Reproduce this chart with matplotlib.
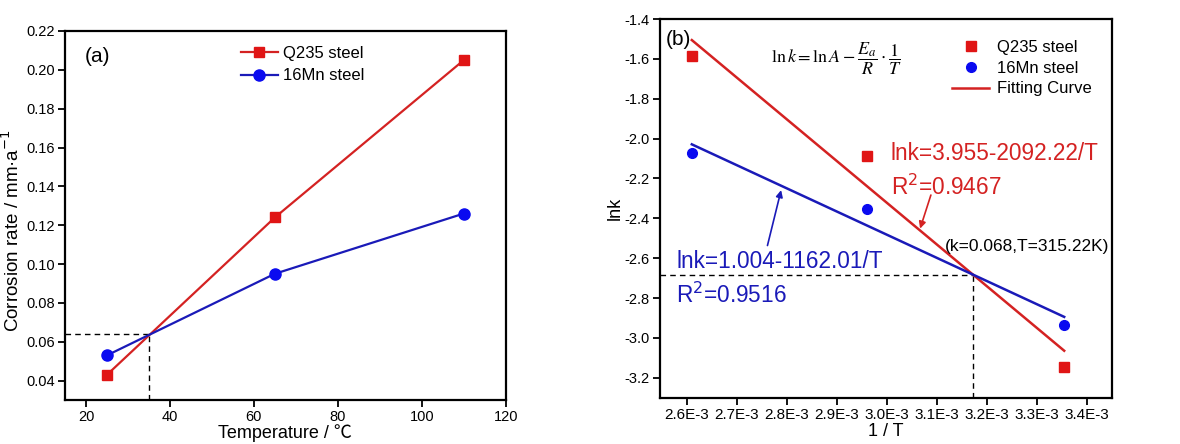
import matplotlib
matplotlib.use("Agg")
import matplotlib.pyplot as plt
import numpy as np

plt.rcParams['font.family'] = ['Liberation Sans', 'DejaVu Sans']

# ---- data panel (a)
temps = [25, 65, 110]
q235_rate = [0.043, 0.124, 0.205]
mn16_rate = [0.053, 0.095, 0.126]
cross_T = 35
cross_rate = 0.064

# ---- data panel (b)
inv_T = [2.61e-3, 2.96e-3, 3.355e-3]
q235_lnk = [-1.585, -2.088, -3.145]
mn16_lnk = [-2.071, -2.355, -2.937]
q235_fit = (3.955, -2092.22)   # intercept, slope
mn16_fit = (1.004, -1162.01)
cross_invT = 3.1724e-3
cross_lnk = -2.686
xticks_b = [2.6e-3, 2.7e-3, 2.8e-3, 2.9e-3, 3.0e-3, 3.1e-3, 3.2e-3, 3.3e-3, 3.4e-3]
xticklabels_b = ['2.6E-3', '2.7E-3', '2.8E-3', '2.9E-3', '3.0E-3', '3.1E-3', '3.2E-3', '3.3E-3', '3.4E-3']

RED = '#E01515'
REDL = '#D42222'
BLUE = '#0A0AF0'
BLUEL = '#1A1AB8'

fig = plt.figure(figsize=(11.8, 4.44), dpi=100)
ax1 = fig.add_axes([0.0551, 0.0991, 0.3735, 0.8311])
ax2 = fig.add_axes([0.5596, 0.1043, 0.3825, 0.8529])

for ax in (ax1, ax2):
    for s in ax.spines.values():
        s.set_linewidth(1.6)
    ax.tick_params(direction='out', length=5, width=1.3, labelsize=10.5, pad=2.5, top=False, right=False)

# ---- panel (a)
ax1.plot([15, cross_T], [cross_rate, cross_rate], ls='--', color='black', lw=1, dashes=(4, 3))
ax1.plot([cross_T, cross_T], [0.03, cross_rate], ls='--', color='black', lw=1, dashes=(4, 3))
ax1.plot(temps, q235_rate, color=REDL, lw=1.6, marker='s', ms=7.5, mfc=RED, mec=RED, label='Q235 steel', zorder=3)
ax1.plot(temps, mn16_rate, color=BLUEL, lw=1.6, marker='o', ms=8, mfc=BLUE, mec=BLUE, label='16Mn steel', zorder=3)
ax1.set_xlim(15, 120)
ax1.set_ylim(0.03, 0.22)
ax1.set_xticks([20, 40, 60, 80, 100, 120])
ax1.set_yticks(np.arange(0.04, 0.221, 0.02))
ax1.set_yticklabels(['%.2f' % v for v in np.arange(0.04, 0.221, 0.02)])
ax1.set_xlabel('Temperature / ℃', fontsize=13, labelpad=0, family=['Liberation Sans', 'Noto Sans CJK SC', 'DejaVu Sans'])
ax1.set_ylabel('Corrosion rate / mm·a$^{-1}$', fontsize=13.5, labelpad=1)
ax1.yaxis.set_label_coords(-0.095, 0.46)
ax1.text(0.045, 0.932, '(a)', transform=ax1.transAxes, fontsize=15, ha='left', va='center')
ax1.legend(loc='upper left', bbox_to_anchor=(0.365, 1.0), frameon=False, fontsize=12,
           handlelength=2.2, handletextpad=0.3, labelspacing=0.45)

# ---- panel (b)
xf = np.array([inv_T[0], inv_T[-1]])
ax2.plot([2.547e-3, cross_invT], [cross_lnk, cross_lnk], color='black', lw=1, dashes=(4, 3))
ax2.plot([cross_invT, cross_invT], [-3.3, cross_lnk], color='black', lw=1, dashes=(4, 3))
ax2.plot(xf, q235_fit[0] + q235_fit[1] * xf, color=REDL, lw=1.8, label='Fitting Curve', zorder=2)
ax2.plot(xf, mn16_fit[0] + mn16_fit[1] * xf, color=BLUEL, lw=1.8, zorder=2)
ax2.plot(inv_T, q235_lnk, ls='none', marker='s', ms=6.5, color=RED, label='Q235 steel', zorder=3)
ax2.plot(inv_T, mn16_lnk, ls='none', marker='o', ms=7, color=BLUE, label='16Mn steel', zorder=3)
ax2.set_xlim(2.547e-3, 3.45e-3)
ax2.set_ylim(-3.3, -1.4)
ax2.set_xticks(xticks_b)
ax2.set_xticklabels(xticklabels_b, fontsize=11)
ax2.set_yticks(np.arange(-3.2, -1.39, 0.2))
ax2.set_yticklabels(['%.1f' % v for v in np.arange(-3.2, -1.39, 0.2)])
ax2.set_xlabel('1 / T', fontsize=13, labelpad=1)
ax2.set_ylabel('lnk', fontsize=13, labelpad=1)
h, l = ax2.get_legend_handles_labels()
ax2.legend([h[1], h[2], h[0]], [l[1], l[2], l[0]], loc='upper right', bbox_to_anchor=(0.99, 0.985),
           frameon=False, fontsize=12, handlelength=2.2, handletextpad=0.5, labelspacing=0.35)
ax2.text(0.012, 0.945, '(b)', transform=ax2.transAxes, fontsize=15, ha='left', va='center')
ax2.text(0.39, 0.895, r'$\ln k=\ln A-\dfrac{E_a}{R}\cdot\dfrac{1}{T}$', transform=ax2.transAxes,
         fontsize=13, ha='center', va='center', math_fontfamily='stix')
ax2.text(0.51, 0.645, 'lnk=3.955-2092.22/T', transform=ax2.transAxes, color=REDL, fontsize=16.3, ha='left', va='center')
ax2.text(0.51, 0.555, 'R$^2$=0.9467', transform=ax2.transAxes, color=REDL, fontsize=16.3, ha='left', va='center')
ax2.text(0.035, 0.36, 'lnk=1.004-1162.01/T', transform=ax2.transAxes, color=BLUEL, fontsize=16.3, ha='left', va='center')
ax2.text(0.035, 0.27, 'R$^2$=0.9516', transform=ax2.transAxes, color=BLUEL, fontsize=16.3, ha='left', va='center')
ax2.text(0.995, 0.40, '(k=0.068,T=315.22K)', transform=ax2.transAxes, color='black', fontsize=12.5, ha='right', va='center')
ax2.annotate('', xy=(2.79e-3, -2.245), xytext=(2.76e-3, -2.55),
             arrowprops=dict(arrowstyle='-|>', color=BLUEL, lw=1.2, mutation_scale=10))
ax2.annotate('', xy=(3.065e-3, -2.465), xytext=(3.09e-3, -2.27),
             arrowprops=dict(arrowstyle='-|>', color=REDL, lw=1.2, mutation_scale=10))

fig.savefig('out.png', dpi=100)
